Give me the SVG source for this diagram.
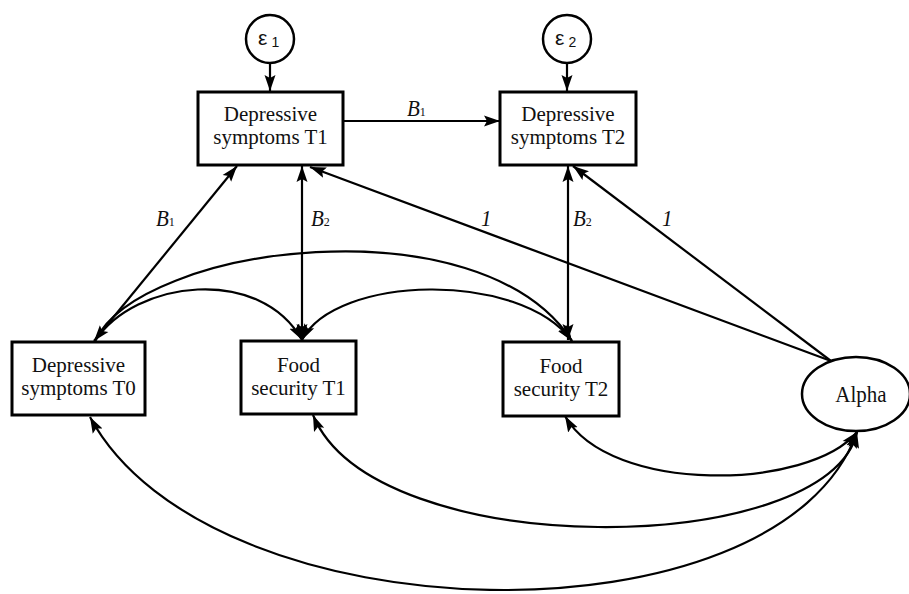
<svg xmlns="http://www.w3.org/2000/svg" width="909" height="594" viewBox="0 0 909 594">
<style>
.box{fill:#fff;stroke:#000;stroke-width:3}
.err{fill:#fff;stroke:#000;stroke-width:2.5}
.lbl{font-family:"Liberation Serif","Times New Roman",serif;font-size:21px;fill:#111;text-anchor:middle}
.eps{font-family:"Liberation Sans",Arial,sans-serif;font-size:21px;fill:#111}
.coef{font-family:"Liberation Serif","Times New Roman",serif;font-style:italic;font-size:21px;fill:#111}
.sub{font-style:normal;font-size:12px}
.c{fill:none;stroke:#000;stroke-width:2.2}
.s{marker-end:url(#ah)}
.d{marker-start:url(#ah);marker-end:url(#ah)}
</style>
<defs>
<marker id="ah" markerUnits="userSpaceOnUse" markerWidth="17" markerHeight="12" refX="16" refY="5.5" orient="auto-start-reverse" viewBox="0 0 17 11">
<path d="M0,0 L16,5.5 L0,11 L3,5.5 z" fill="#000"/>
</marker>
</defs>
<rect width="909" height="594" fill="#fff"/>
<g id="connectors">
<line class="c s" x1="270" y1="63" x2="270" y2="91"/>
<line class="c s" x1="567" y1="63" x2="567" y2="91"/>
<line class="c s" x1="343" y1="121" x2="500" y2="121"/>
<line class="c d" x1="237" y1="166" x2="94" y2="341"/>
<line class="c d" x1="302" y1="166" x2="302" y2="340"/>
<line class="c d" x1="568" y1="166" x2="568" y2="340"/>
<line class="c s" x1="831" y1="361" x2="310" y2="167"/>
<line class="c s" x1="831" y1="361" x2="573" y2="166"/>
<path class="c s" d="M95,341 C135,280 260,265 302,340"/>
<path class="c s" d="M95,341 C140,245 480,200 572,341"/>
<path class="c d" d="M302,340 C335,275 520,270 572,341"/>
<path class="c d" d="M565,416 C610,495 810,490 857,432"/>
<path class="c d" d="M313,415 C375,565 830,558 857,432"/>
<path class="c d" d="M90,417 C210,640 780,650 857,432"/>
</g>
<g id="e1">
<circle class="err" cx="270" cy="39" r="24"/>
<text class="eps" x="258" y="45">ε<tspan font-size="14" dx="4" dy="2">1</tspan></text>
</g>
<g id="e2">
<circle class="err" cx="567" cy="39" r="24"/>
<text class="eps" x="555" y="45">ε<tspan font-size="14" dx="4" dy="2">2</tspan></text>
</g>
<g id="dep1">
<rect class="box" x="198" y="92" width="145" height="73"/>
<text class="lbl" x="270.5" y="121">Depressive</text>
<text class="lbl" x="270.5" y="144">symptoms T1</text>
</g>
<g id="dep2">
<rect class="box" x="500" y="92" width="136" height="73"/>
<text class="lbl" x="568" y="121">Depressive</text>
<text class="lbl" x="568" y="144">symptoms T2</text>
</g>
<g id="dep0">
<rect class="box" x="12" y="342" width="133" height="73"/>
<text class="lbl" x="78.5" y="372">Depressive</text>
<text class="lbl" x="78.5" y="395">symptoms T0</text>
</g>
<g id="food1">
<rect class="box" x="241" y="341" width="115" height="73"/>
<text class="lbl" x="298.5" y="372">Food</text>
<text class="lbl" x="298.5" y="395">security T1</text>
</g>
<g id="food2">
<rect class="box" x="503" y="342" width="116" height="74"/>
<text class="lbl" x="561" y="373">Food</text>
<text class="lbl" x="561" y="396">security T2</text>
</g>
<g id="alpha">
<ellipse class="err" cx="856" cy="394" rx="54" ry="37"/>
<text class="lbl" transform="translate(861,402) scale(1,1.12)">Alpha</text>
</g>
<g id="labels">
<text class="coef" transform="translate(407,116) scale(1,1.12)">B<tspan class="sub">1</tspan></text>
<text class="coef" transform="translate(156,226) scale(1,1.12)">B<tspan class="sub">1</tspan></text>
<text class="coef" transform="translate(311,226) scale(1,1.12)">B<tspan class="sub">2</tspan></text>
<text class="coef" transform="translate(573,226) scale(1,1.12)">B<tspan class="sub">2</tspan></text>
<text class="coef" transform="translate(481,226) scale(1,1.12)">1</text>
<text class="coef" transform="translate(662,226) scale(1,1.12)">1</text>
</g>
</svg>
